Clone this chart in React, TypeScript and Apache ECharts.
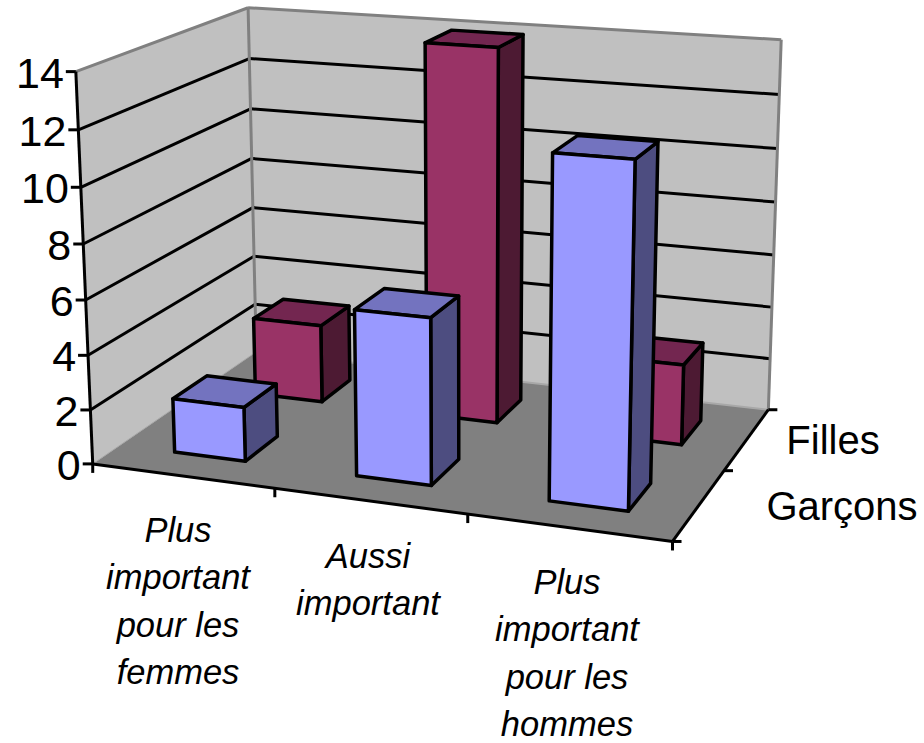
import React, { useEffect, useRef } from "react";
import * as echarts from "echarts";

const categories = ["Plus\nimportant\npour les\nfemmes", "Aussi\nimportant", "Plus\nimportant\npour les\nhommes"];
const seriesNames = ["Filles", "Garçons"];
const filles = [3, 14, 3];
const garcons = [2, 6, 12];
const valueTicks = [0, 2, 4, 6, 8, 10, 12, 14];

const W = 924, H = 743;
const GRID = { left: 100, top: 100, width: 600, height: 500 };
const FONT = '"Liberation Sans", Arial, sans-serif';
const BLACK = "#000000";

// calibration: (category position 0..3, depth 0..1, value 0..14) -> pixel
const CAL: number[][] = [
  [0, 0, 0, 94, 464], [3, 0, 0, 672, 542], [0, 1, 0, 255, 352], [3, 1, 0, 769, 409],
  [0, 0, 14, 75, 71], [0, 1, 14, 249, 8], [3, 1, 14, 781, 40],
];

function solve(A: number[][], b: number[]): number[] {
  const n = b.length;
  const M = A.map((r, i) => [...r, b[i]]);
  for (let c = 0; c < n; c++) {
    let p = c;
    for (let r = c + 1; r < n; r++) if (Math.abs(M[r][c]) > Math.abs(M[p][c])) p = r;
    [M[c], M[p]] = [M[p], M[c]];
    for (let r = 0; r < n; r++) {
      if (r === c) continue;
      const f = M[r][c] / M[c][c];
      for (let k = c; k <= n; k++) M[r][k] -= f * M[c][k];
    }
  }
  return M.map((r, i) => r[n] / r[i]);
}

function fitProjection(): number[] {
  const rows: number[][] = [];
  const rhs: number[] = [];
  CAL.forEach(([x, d, v, px, py]) => {
    const u = x / 3, t = v / 14;
    rows.push([u, d, t, 1, 0, 0, 0, 0, -px * u, -px * d, -px * t]); rhs.push(px);
    rows.push([0, 0, 0, 0, u, d, t, 1, -py * u, -py * d, -py * t]); rhs.push(py);
  });
  const ATA = Array.from({ length: 11 }, (_, i) =>
    Array.from({ length: 11 }, (_, j) => rows.reduce((s, r) => s + r[i] * r[j], 0)));
  const ATb = Array.from({ length: 11 }, (_, i) => rows.reduce((s, r, k) => s + r[i] * rhs[k], 0));
  return solve(ATA, ATb);
}
const P = fitProjection();

function projector(api: any) {
  return (x: number, d: number, v: number): number[] => {
    const c = api.coord([x, v]);
    const u = (c[0] - GRID.left) / GRID.width;
    const t = (GRID.top + GRID.height - c[1]) / GRID.height;
    const w = P[8] * u + P[9] * d + P[10] * t + 1;
    return [(P[0] * u + P[1] * d + P[2] * t + P[3]) / w, (P[4] * u + P[5] * d + P[6] * t + P[7]) / w];
  };
}

const poly = (points: number[][], fill: string, stroke: string, lineWidth: number) => ({
  type: "polygon", shape: { points },
  style: { fill, stroke, lineWidth, lineJoin: "round" },
});
const seg = (a: number[], b: number[], stroke: string, lineWidth: number) => ({
  type: "line", shape: { x1: a[0], y1: a[1], x2: b[0], y2: b[1] },
  style: { stroke, lineWidth, lineCap: "butt" },
});
const label = (text: string, x: number, y: number, fontSize: number, align: string, extra: any = {}) => ({
  type: "text",
  style: { text, x, y, fontSize, fontFamily: FONT, fill: BLACK, align, verticalAlign: "middle", ...extra },
});

function renderFrame(_: any, api: any) {
  const p = projector(api);
  const wallEdge = "#808080";
  const children: any[] = [
    poly([p(0, 0, 0), p(0, 1, 0), p(0, 1, 14), p(0, 0, 14)], "#c0c0c0", "none", 0),
    poly([p(0, 1, 0), p(3, 1, 0), p(3, 1, 14), p(0, 1, 14)], "#c0c0c0", "none", 0),
    poly([p(0, 0, 0), p(3, 0, 0), p(3, 1, 0), p(0, 1, 0)], "#808080", "none", 0),
  ];
  valueTicks.forEach((v) => {
    if (v > 0 && v < 14) {
      children.push(seg(p(0, 0, v), p(0, 1, v), BLACK, 3));
      children.push(seg(p(0, 1, v), p(3, 1, v), BLACK, 3));
    }
  });
  children.push(seg(p(0, 1, 0), p(0, 1, 14), wallEdge, 3));
  children.push(seg(p(0, 1, 14), p(3, 1, 14), wallEdge, 3));
  children.push(seg(p(3, 1, 14), p(3, 1, 0), wallEdge, 3));
  children.push(seg(p(0, 0, 14), p(0, 1, 14), wallEdge, 3));
  children.push(seg(p(0, 0, 0), p(0, 1, 0), "#a8a8a8", 1));
  children.push(seg(p(0, 1, 0), p(3, 1, 0), "#a8a8a8", 2));
  return { type: "group", children };
}

function renderAxes(_: any, api: any) {
  const p = projector(api);
  const children: any[] = [
    seg(p(0, 0, 0), p(0, 0, 14), BLACK, 3),
    seg(p(0, 0, 0), p(3, 0, 0), BLACK, 3),
    seg(p(3, 0, 0), p(3, 1, 0), BLACK, 3),
  ];
  valueTicks.forEach((v) => {
    const a = p(0, 0, v);
    children.push(seg([a[0] - 10, a[1]], [a[0], a[1]], BLACK, 3));
    children.push(label(String(v), a[0] - 12, a[1] + 1, 43, "right"));
  });
  for (let i = 0; i <= categories.length; i++) {
    const a = p(i, 0, 0);
    children.push(seg(a, [a[0], a[1] + 9], BLACK, 3));
  }
  [0, 0.5, 1].forEach((d) => {
    const a = p(3, d, 0);
    children.push(seg(a, [a[0] + 9, a[1]], BLACK, 3));
  });
  return { type: "group", children };
}

const BAR_X = [0.31, 0.705];
const DEPTHS: Record<string, number[]> = { "Filles": [0.65, 0.85], "Garçons": [0.15, 0.35] };
const COLORS: Record<string, string[]> = {
  "Filles": ["#993366", "#732650", "#4d1a33"],
  "Garçons": ["#9999ff", "#7373bf", "#4d4d80"],
};

function renderBar(name: string) {
  return (_: any, api: any) => {
    const p = projector(api);
    const i = api.value(0), v = api.value(1);
    const [x0, x1] = [i + BAR_X[0], i + BAR_X[1]];
    const [d0, d1] = DEPTHS[name];
    const [front, top, side] = COLORS[name];
    return {
      type: "group",
      children: [
        poly([p(x1, d0, 0), p(x1, d1, 0), p(x1, d1, v), p(x1, d0, v)], side, BLACK, 3.5),
        poly([p(x0, d0, v), p(x1, d0, v), p(x1, d1, v), p(x0, d1, v)], top, BLACK, 3.5),
        poly([p(x0, d0, 0), p(x1, d0, 0), p(x1, d0, v), p(x0, d0, v)], front, BLACK, 3.5),
      ],
    };
  };
}

const CATEGORY_ANCHORS = [[178, 530], [368, 556], [567, 582]];
const SERIES_ANCHORS = [[833, 440], [842, 506]];

function renderLabels() {
  return {
    type: "group",
    children: [
      ...categories.map((c, i) => label(c, CATEGORY_ANCHORS[i][0], CATEGORY_ANCHORS[i][1] - 24, 34.5, "center", {
        fontStyle: "italic", lineHeight: 47.5, verticalAlign: "top",
      })),
      ...seriesNames.map((n, i) => label(n, SERIES_ANCHORS[i][0], SERIES_ANCHORS[i][1], 40, "center")),
    ],
  };
}

export default function App() {
  const ref = useRef<HTMLDivElement>(null);
  useEffect(() => {
    const chart = echarts.init(ref.current!, undefined, { renderer: "svg" });
    const custom = (name: string, data: any[], renderItem: any) => ({
      type: "custom", name, data, renderItem, silent: true, clip: false,
      coordinateSystem: "cartesian2d",
    });
    chart.setOption({
      animation: false,
      backgroundColor: "#ffffff",
      grid: { ...GRID, containLabel: false },
      xAxis: { type: "value", min: 0, max: categories.length, show: false },
      yAxis: { type: "value", min: 0, max: 14, interval: 2, show: false },
      series: [
        custom("frame", [[0, 0]], renderFrame),
        custom("Filles", filles.map((v, i) => [i, v]), renderBar("Filles")),
        custom("Garçons", garcons.map((v, i) => [i, v]), renderBar("Garçons")),
        custom("axes", [[0, 0]], renderAxes),
        custom("labels", [[0, 0]], renderLabels),
      ],
    });
    return () => chart.dispose();
  }, []);
  return <div ref={ref} style={{ position: "absolute", left: 0, top: 0, width: W, height: H }} />;
}
